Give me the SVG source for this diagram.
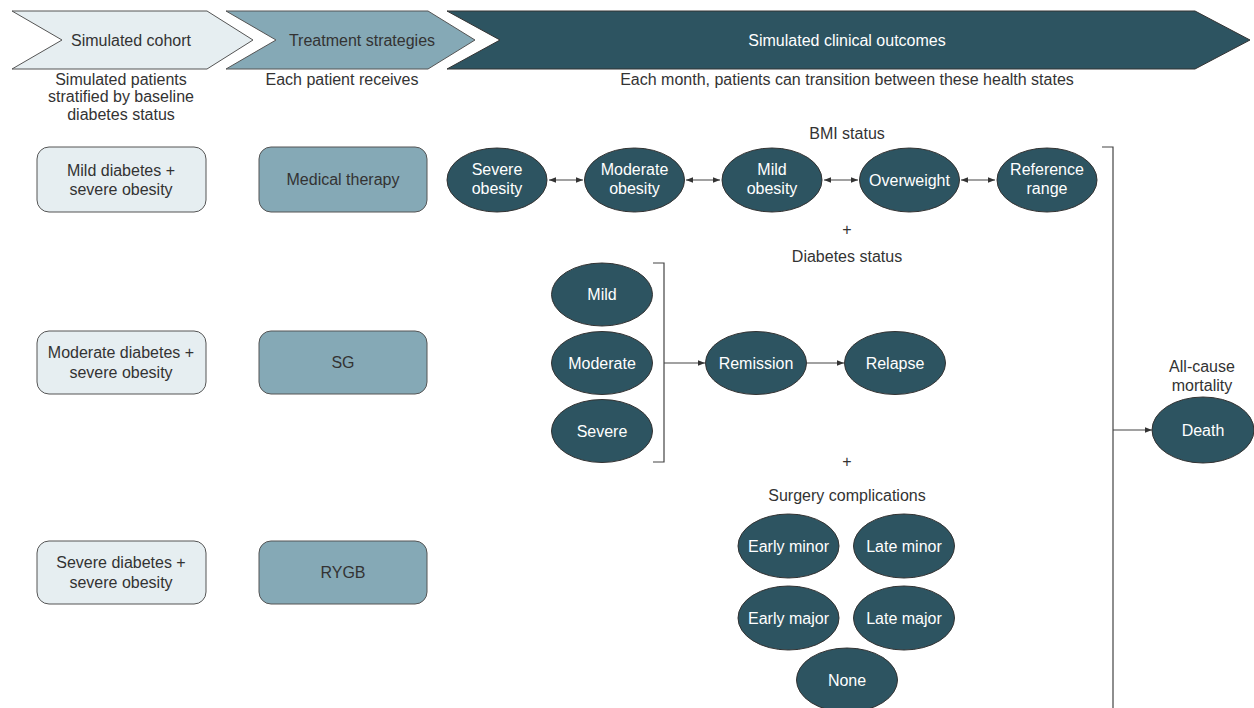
<svg xmlns="http://www.w3.org/2000/svg" width="1254" height="708" viewBox="0 0 1254 708">
<defs>
<style>
.t{font-family:"Liberation Sans",Arial,sans-serif;font-size:16px;fill:#333;text-anchor:middle}
.w{font-family:"Liberation Sans",Arial,sans-serif;font-size:16px;fill:#fff;text-anchor:middle}
.light{fill:#E6EEF1;stroke:#555;stroke-width:1}
.mid{fill:#85A9B6;stroke:#555;stroke-width:1}
.dark{fill:#2D5461;stroke:#333;stroke-width:1}
.ln{fill:none;stroke:#444;stroke-width:1.2}
</style>
<marker id="ah" viewBox="0 0 10 10" refX="10" refY="5" markerWidth="7" markerHeight="7" orient="auto-start-reverse" markerUnits="userSpaceOnUse">
<path d="M0,1 L10,5 L0,9 Z" fill="#333"/>
</marker>
</defs>
<rect width="1254" height="708" fill="#fff"/>

<g id="header-cohort">
<path class="light" d="M12,11 L207,11 L253,40 L207,69 L12,69 L62,40 Z"/>
<text class="t" x="131" y="46">Simulated cohort</text>
<text class="t" x="121" y="85">Simulated patients</text>
<text class="t" x="121" y="102">stratified by baseline</text>
<text class="t" x="121" y="120">diabetes status</text>
</g>
<g id="header-treatment">
<path class="mid" d="M226,11 L428,11 L475,40 L428,69 L226,69 L276,40 Z"/>
<text class="t" x="362" y="46">Treatment strategies</text>
<text class="t" x="342" y="85">Each patient receives</text>
</g>
<g id="header-outcomes">
<path class="dark" d="M447,11 L1195,11 L1250,40 L1195,69 L447,69 L500,40 Z"/>
<text class="w" x="847" y="46">Simulated clinical outcomes</text>
<text class="t" x="847" y="85">Each month, patients can transition between these health states</text>
</g>

<g id="cohort-mild"><rect class="light" x="37" y="147" width="169" height="65" rx="12"/><text class="t" x="121" y="176">Mild diabetes +</text><text class="t" x="121" y="195">severe obesity</text></g>
<g id="cohort-moderate"><rect class="light" x="37" y="331" width="169" height="63" rx="12"/><text class="t" x="121" y="358">Moderate diabetes +</text><text class="t" x="121" y="378">severe obesity</text></g>
<g id="cohort-severe"><rect class="light" x="37" y="541" width="169" height="63" rx="12"/><text class="t" x="121" y="568">Severe diabetes +</text><text class="t" x="121" y="588">severe obesity</text></g>

<g id="tx-medical"><rect class="mid" x="259" y="147" width="168" height="65" rx="12"/><text class="t" x="343" y="185">Medical therapy</text></g>
<g id="tx-sg"><rect class="mid" x="259" y="331" width="168" height="63" rx="12"/><text class="t" x="343" y="368">SG</text></g>
<g id="tx-rygb"><rect class="mid" x="259" y="541" width="168" height="63" rx="12"/><text class="t" x="343" y="578">RYGB</text></g>

<text class="t" x="847" y="139">BMI status</text>
<text class="t" x="847" y="235">+</text>
<text class="t" x="847" y="262">Diabetes status</text>
<text class="t" x="847" y="467">+</text>
<text class="t" x="847" y="501">Surgery complications</text>
<text class="t" x="1202" y="372">All-cause</text>
<text class="t" x="1202" y="391">mortality</text>

<g id="bmi-severe"><ellipse class="dark" cx="497" cy="180" rx="50" ry="32"/><text class="w" x="497" y="175">Severe</text><text class="w" x="497" y="194">obesity</text></g>
<g id="bmi-moderate"><ellipse class="dark" cx="634.5" cy="180" rx="50" ry="32"/><text class="w" x="634.5" y="175">Moderate</text><text class="w" x="634.5" y="194">obesity</text></g>
<g id="bmi-mild"><ellipse class="dark" cx="772" cy="180" rx="50" ry="32"/><text class="w" x="772" y="175">Mild</text><text class="w" x="772" y="194">obesity</text></g>
<g id="bmi-overweight"><ellipse class="dark" cx="909.5" cy="180" rx="50" ry="32"/><text class="w" x="909.5" y="186">Overweight</text></g>
<g id="bmi-reference"><ellipse class="dark" cx="1047" cy="180" rx="50" ry="32"/><text class="w" x="1047" y="175">Reference</text><text class="w" x="1047" y="194">range</text></g>

<g id="dm-mild"><ellipse class="dark" cx="602" cy="294.5" rx="50.5" ry="31.5"/><text class="w" x="602" y="300">Mild</text></g>
<g id="dm-moderate"><ellipse class="dark" cx="602" cy="363" rx="50.5" ry="31.5"/><text class="w" x="602" y="369">Moderate</text></g>
<g id="dm-severe"><ellipse class="dark" cx="602" cy="431" rx="50.5" ry="31.5"/><text class="w" x="602" y="437">Severe</text></g>
<g id="dm-remission"><ellipse class="dark" cx="756" cy="363" rx="50.5" ry="31.5"/><text class="w" x="756" y="369">Remission</text></g>
<g id="dm-relapse"><ellipse class="dark" cx="895" cy="363" rx="50.5" ry="31.5"/><text class="w" x="895" y="369">Relapse</text></g>

<g id="sc-early-minor"><ellipse class="dark" cx="788.5" cy="546" rx="50.5" ry="32"/><text class="w" x="788.5" y="552">Early minor</text></g>
<g id="sc-late-minor"><ellipse class="dark" cx="904" cy="546" rx="50.5" ry="32"/><text class="w" x="904" y="552">Late minor</text></g>
<g id="sc-early-major"><ellipse class="dark" cx="788.5" cy="618" rx="50.5" ry="32"/><text class="w" x="788.5" y="624">Early major</text></g>
<g id="sc-late-major"><ellipse class="dark" cx="904" cy="618" rx="50.5" ry="32"/><text class="w" x="904" y="624">Late major</text></g>
<g id="sc-none"><ellipse class="dark" cx="847" cy="680" rx="50.5" ry="32"/><text class="w" x="847" y="686">None</text></g>

<g id="death"><ellipse class="dark" cx="1203" cy="430" rx="51" ry="33"/><text class="w" x="1203" y="436">Death</text></g>

<g id="connectors">
<line class="ln" x1="549" y1="180" x2="583" y2="180" marker-start="url(#ah)" marker-end="url(#ah)"/>
<line class="ln" x1="686" y1="180" x2="720" y2="180" marker-start="url(#ah)" marker-end="url(#ah)"/>
<line class="ln" x1="824" y1="180" x2="858" y2="180" marker-start="url(#ah)" marker-end="url(#ah)"/>
<line class="ln" x1="961" y1="180" x2="995" y2="180" marker-start="url(#ah)" marker-end="url(#ah)"/>
<path class="ln" d="M653,263 L664,263 L664,462 L653,462"/>
<line class="ln" x1="664" y1="363" x2="705" y2="363" marker-end="url(#ah)"/>
<line class="ln" x1="807" y1="363" x2="844" y2="363" marker-end="url(#ah)"/>
<path class="ln" d="M1102,147 L1113,147 L1113,708"/>
<line class="ln" x1="1113" y1="430" x2="1152" y2="430" marker-end="url(#ah)"/>
</g>
</svg>
